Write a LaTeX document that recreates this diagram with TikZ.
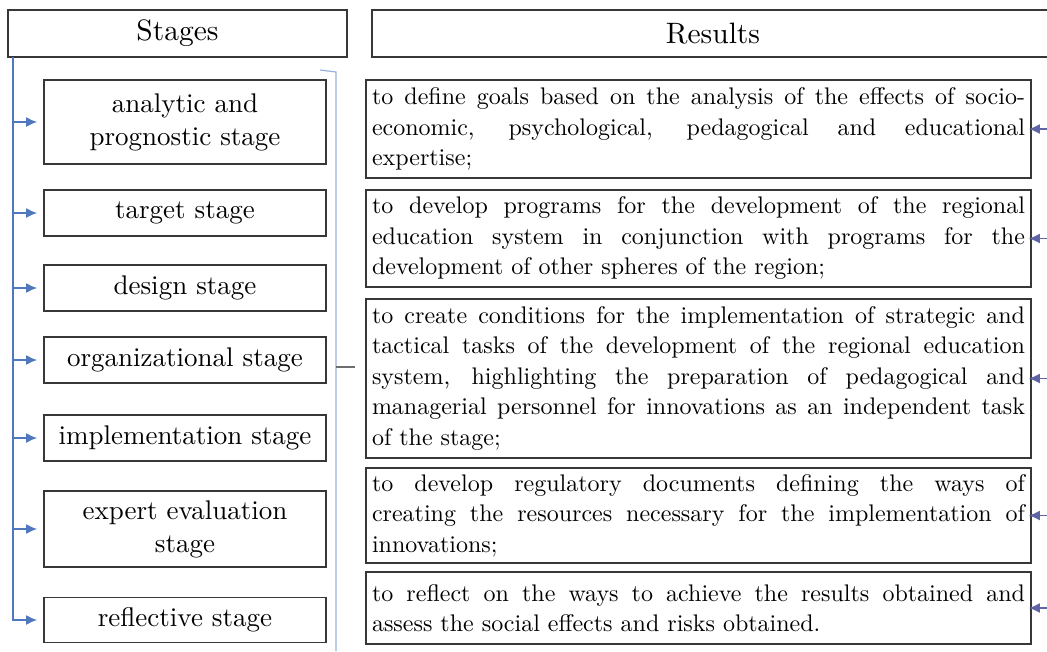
\documentclass[tikz,border=0pt]{standalone}
\usepackage{fontspec}
\setmainfont{lmroman10-regular.otf}[BoldFont=lmroman10-bold.otf]
\usetikzlibrary{arrows.meta}
\definecolor{boxc}{RGB}{55,55,55}
\definecolor{spinec}{RGB}{79,120,190}
\definecolor{rarrc}{RGB}{95,100,165}
\definecolor{brc}{RGB}{150,178,222}
\definecolor{tickc}{RGB}{110,110,110}
\hyphenpenalty=10000
\begin{document}
\begin{tikzpicture}[x=1pt,y=-1pt,
  hdr/.style={draw=boxc, line width=1.6pt, minimum height=47pt, inner sep=0pt, font=\fontsize{29.5}{32}\selectfont},
  stagebox/.style={draw=boxc, line width=1.6pt, minimum width=282pt, text width=274pt, align=center, inner xsep=4pt, inner ysep=0pt, font=\fontsize{27}{33}\selectfont},
  resbox/.style={draw=boxc, line width=1.6pt, text width=653pt, inner xsep=6pt, inner ysep=0pt, align=justify, font=\fontsize{24}{30.5}\selectfont},
  larr/.style={draw=spinec, line width=1.8pt, -{Latex[length=11pt,width=10pt]}, shorten >=6pt},
  rarr/.style={draw=rarrc, line width=1.6pt, -{Latex[length=11pt,width=10pt]}, shorten >=-3pt},
  brack/.style={draw=brc, line width=1.2pt},
  tickl/.style={draw=tickc, line width=1.2pt}
]
\useasboundingbox (0,0) rectangle (1047,651);
\clip (0,0) rectangle (1047,651);

% headers
\node[hdr, minimum width=339pt] (hs) at (177.5,33.5) {Stages};
\node[hdr, minimum width=682pt] (hr) at (713,33.5) {Results};

% stages
\node[stagebox, minimum height=84pt] (s1) at (185,122) {analytic and\\prognostic stage};
\node[stagebox, minimum height=46pt] (s2) at (185,213) {target stage};
\node[stagebox, minimum height=46pt] (s3) at (185,288) {design stage};
\node[stagebox, minimum height=46pt] (s4) at (185,360) {organizational stage};
\node[stagebox, minimum height=46pt] (s5) at (185,438) {implementation stage};
\node[stagebox, minimum height=76pt] (s6) at (185,529) {expert evaluation\\stage};
\node[stagebox, minimum height=45pt] (s7) at (185,620) {reflective stage};

% results
\node[resbox, minimum height=98pt] (r1) at (698.5,129) {to define goals based on the analysis of the effects of socio-\linebreak economic, psychological, pedagogical and educational\linebreak expertise;};
\node[resbox, minimum height=97pt] (r2) at (698.5,238.5) {to develop programs for the development of the regional\linebreak education system in conjunction with programs for the\linebreak development of other spheres of the region;};
\node[resbox, minimum height=159pt] (r3) at (698.5,378.5) {to create conditions for the implementation of strategic and\linebreak tactical tasks of the development of the regional education\linebreak system, highlighting the preparation of pedagogical and\linebreak managerial personnel for innovations as an independent task\linebreak of the stage;};
\node[resbox, minimum height=95pt] (r4) at (698.5,515.5) {to develop regulatory documents defining the ways of\linebreak creating the resources necessary for the implementation of\linebreak innovations;};
\node[resbox, minimum height=72pt] (r5) at (698.5,608) {to reflect on the ways to achieve the results obtained and\linebreak assess the social effects and risks obtained.};

% left spine
\coordinate (sp) at (13,57);
\draw[larr] (sp) |- (s7.west);
\foreach \s in {s1,s2,s3,s4,s5,s6} \draw[larr] (\s.west -| sp) -- (\s.west);

% bracket
\coordinate (bt) at (320,70);
\coordinate (bc) at (336,72);
\coordinate (bb) at (336,651);
\coordinate (tk) at (336,367);
\coordinate (tke) at (355,367);
\draw[brack] (bt) -- (bc) -- (bb);
\draw[tickl] (tk) -- (tke);

% right arrows
\coordinate (re) at (1047,0);
\foreach \r in {r1,r2,r3,r4,r5} \draw[rarr] (\r.east -| re) -- (\r.east);
\end{tikzpicture}
\end{document}
